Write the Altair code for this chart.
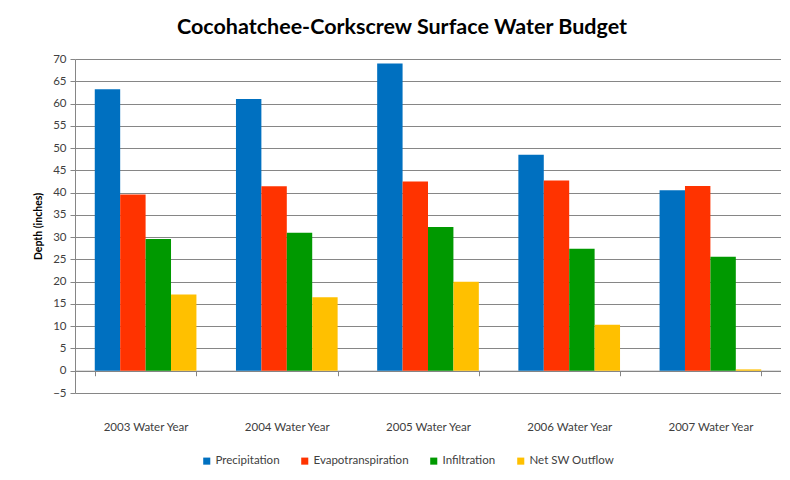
import altair as alt
import pandas as pd

years = ["2003 Water Year", "2004 Water Year", "2005 Water Year", "2006 Water Year", "2007 Water Year"]
series = ["Precipitation", "Evapotranspiration", "Infiltration", "Net SW Outflow"]
precipitation = [63.2, 61.0, 69.0, 48.5, 40.5]
evapotranspiration = [39.6, 41.4, 42.5, 42.7, 41.5]
infiltration = [29.6, 31.0, 32.3, 27.4, 25.6]
net_sw_outflow = [17.1, 16.5, 20.0, 10.3, 0.3]
colors = ["#0070C0", "#FF3300", "#009900", "#FFC000"]

rows = []
for name, vals in zip(series, [precipitation, evapotranspiration, infiltration, net_sw_outflow]):
    for y, v in zip(years, vals):
        rows.append({"Year": y, "Series": name, "Value": v})
df = pd.DataFrame(rows)

PLOT_W = 706
PLOT_H = 334
FONT = "Lato"

chart = alt.Chart(df).mark_bar().encode(
    x=alt.X("Year:N", sort=years, title=None,
            scale=alt.Scale(paddingInner=0.28, paddingOuter=0.14),
            axis=alt.Axis(offset=-PLOT_H * 5 / 75, tickBand="extent", tickSize=5,
                          labelPadding=46, labelAngle=0, labelFontSize=11.5,
                          labelColor="#404040", labelFont=FONT,
                          domainColor="#868686", tickColor="#868686", grid=False)),
    xOffset=alt.XOffset("Series:N", sort=series, scale=alt.Scale(domain=series)),
    y=alt.Y("Value:Q", title="Depth (inches)",
            scale=alt.Scale(domain=[-5, 70], nice=False, zero=False),
            axis=alt.Axis(values=list(range(-5, 71, 5)), tickSize=5, labelPadding=4,
                          labelFontSize=11.5, labelColor="#404040", labelFont=FONT,
                          titleFont=FONT, titleFontSize=10.5, titleFontWeight="bold",
                          titleColor="#000000", titlePadding=9,
                          grid=True, gridColor="#868686", domainColor="#868686",
                          tickColor="#868686")),
    color=alt.Color("Series:N", sort=series,
                    scale=alt.Scale(domain=series, range=colors),
                    legend=alt.Legend(title=None, orient="none", direction="horizontal",
                                      legendX=126, legendY=396, symbolType="square",
                                      symbolSize=50, symbolStrokeWidth=0,
                                      labelFontSize=11.5, labelFont=FONT,
                                      labelColor="#404040", columnPadding=19,
                                      labelOffset=3)),
).properties(
    width=PLOT_W,
    height=PLOT_H,
    title=alt.TitleParams("Cocohatchee-Corkscrew Surface Water Budget",
                          fontSize=21.5, font=FONT, fontWeight="bold", color="#000000",
                          anchor="middle", dx=-26, offset=15),
    autosize=alt.AutoSizeParams(type="none"),
    padding={"left": 67, "top": 51, "right": 0, "bottom": 79},
).configure_view(stroke=None)

chart.save("out.html", embed_options={"renderer": "svg", "actions": False})
